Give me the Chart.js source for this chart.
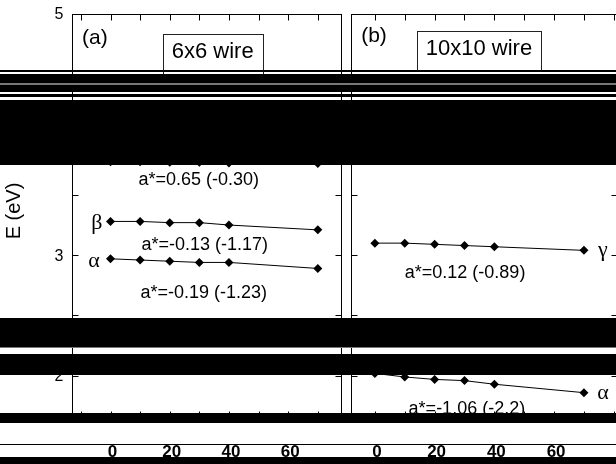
<!DOCTYPE html>
<html>
<head>
<meta charset="utf-8">
<script src="https://cdn.jsdelivr.net/npm/chart.js"></script>
<style>
  body { margin: 0; background: #fff; overflow: hidden; }
  #wrap { position: relative; width: 616px; height: 464px; overflow: hidden; background: #fff; }
  #wrap canvas { position: absolute; top: 0; }
  .band { position: absolute; left: 0; width: 616px; }
</style>
</head>
<body>
<div id="wrap">
  <canvas id="panel-a" width="346" height="464" style="left:0"></canvas>
  <canvas id="panel-b" width="280" height="464" style="left:346px"></canvas>
</div>
<script>
// wire length (x) vs. band energy E (eV)
let xValues = [0, 10, 20, 30, 40, 70];

let wire6Upper = [3.775, 3.775, 3.77, 3.77, 3.765, 3.76];
let wire6Beta  = [3.28, 3.28, 3.27, 3.27, 3.25, 3.21];
let wire6Alpha = [2.97, 2.96, 2.95, 2.94, 2.94, 2.89];

let wire10Gamma = [3.10, 3.10, 3.09, 3.08, 3.07, 3.04];
let wire10Alpha = [2.02, 1.99, 1.97, 1.96, 1.93, 1.86];

let yTickLabels = [2, 3, 4, 5];
let xTickLabels = [0, 20, 40, 60];

let wire6Notes  = ["a*=0.65 (-0.30)", "a*=-0.13 (-1.17)", "a*=-0.19 (-1.23)"];
let wire10Notes = ["a*=0.12 (-0.89)", "a*=-1.06 (-2.2)"];

// the scanned figure has black strips across it
let blackBands = [[70, 72], [74, 83], [85, 92], [94, 97], [100, 165],
                  [318, 347], [354, 375], [413, 423], [444, 445], [457, 464]];
let greyBands = [[83, 85], [347, 348]];

let sansFont = "'Liberation Sans', Arial, sans-serif";
let serifFont = "'Liberation Serif', 'Times New Roman', serif";

function toPoints(values) {
    return xValues.map(function (x, i) { return { x: x, y: values[i] }; });
}

function seriesSet(values) {
    return {
        data: toPoints(values),
        borderColor: '#000',
        borderWidth: 1,
        pointStyle: 'rectRot',
        pointRadius: 4.5,
        pointBackgroundColor: '#000',
        pointBorderColor: '#000',
        pointBorderWidth: 0,
        tension: 0
    };
}

let panelDecor = {
    id: 'panelDecor',
    afterDraw: function (chart, args, opts) {
        let ctx = chart.ctx;
        let area = chart.chartArea;
        let xs = chart.scales.x;
        let ys = chart.scales.y;
        ctx.save();
        ctx.strokeStyle = '#000';
        ctx.lineWidth = 1;
        let l = Math.round(area.left) + 0.5, r = Math.round(area.right) - 0.5;
        let t = Math.round(area.top) + 0.5, b = Math.round(area.bottom) - 0.5;
        ctx.strokeRect(l, t, r - l, b - t);

        // inward tick marks
        ctx.beginPath();
        for (let v = 1.5; v <= 5; v += 0.5) {
            if (v < ys.min || v > ys.max) continue;
            let py = Math.round(ys.getPixelForValue(v)) + 0.5;
            ctx.moveTo(l, py); ctx.lineTo(l + 6, py);
            ctx.moveTo(r, py); ctx.lineTo(r - 6, py);
        }
        for (let v = -10; v <= 80; v += 10) {
            if (v < xs.min || v > xs.max) continue;
            let px = Math.round(xs.getPixelForValue(v)) + 0.5;
            ctx.moveTo(px, t); ctx.lineTo(px, t + 6);
            ctx.moveTo(px, b); ctx.lineTo(px, b - 6);
        }
        ctx.stroke();

        ctx.fillStyle = '#000';
        if (opts.yLabels) {
            ctx.font = '16px ' + sansFont;
            ctx.textAlign = 'right';
            ctx.textBaseline = 'middle';
            yTickLabels.forEach(function (v) {
                ctx.fillText(String(v), l - 9, ys.getPixelForValue(v) + 1);
            });
            ctx.save();
            ctx.translate(14, 211);
            ctx.rotate(-Math.PI / 2);
            ctx.textAlign = 'center';
            ctx.font = '20px ' + sansFont;
            ctx.fillText('E (eV)', 0, 0);
            ctx.restore();
        }

        ctx.font = 'bold 17px ' + sansFont;
        ctx.textAlign = 'center';
        ctx.textBaseline = 'alphabetic';
        xTickLabels.forEach(function (v) {
            ctx.fillText(String(v), xs.getPixelForValue(v) + 2, 457);
        });

        ctx.textBaseline = 'middle';
        opts.notes.forEach(function (n) {
            ctx.font = n.font;
            let px = xs.getPixelForValue(n.x);
            let py = ys.getPixelForValue(n.y);
            ctx.fillText(n.text, px, py);
            if (n.box) {
                let w = ctx.measureText(n.text).width + 18;
                ctx.strokeStyle = '#222';
                ctx.strokeRect(Math.round(px - w / 2) + 0.5, Math.round(py - 18) + 0.5, Math.round(w), 40);
            }
        });
        ctx.restore();
    }
};

function makePanel(id, seriesList, xMin, xMax, pad, decor) {
    return new Chart(document.getElementById(id).getContext('2d'), {
        type: 'line',
        data: { datasets: seriesList.map(seriesSet) },
        options: {
            responsive: false,
            animation: false,
            layout: { padding: pad },
            plugins: {
                legend: { display: false },
                tooltip: { enabled: false },
                panelDecor: decor
            },
            scales: {
                x: { type: 'linear', display: false, min: xMin, max: xMax },
                y: { type: 'linear', display: false, min: 1.65, max: 5 }
            }
        },
        plugins: [panelDecor]
    });
}

let noteFont = '18px ' + sansFont;
let greekFont = '22px ' + serifFont;

makePanel('panel-a', [wire6Upper, wire6Beta, wire6Alpha], -13, 78,
    { left: 72, right: 4, top: 14, bottom: 46 },
    {
        yLabels: true,
        notes: [
            { text: '(a)', x: -5.3, y: 4.80, font: '21px ' + sansFont },
            { text: '6x6 wire', x: 34.5, y: 4.685, font: '22px ' + sansFont, box: true },
            { text: wire6Notes[0], x: 29.8, y: 3.624, font: noteFont },
            { text: wire6Notes[1], x: 31.8, y: 3.085, font: noteFont },
            { text: wire6Notes[2], x: 31.5, y: 2.687, font: noteFont },
            { text: 'β', x: -4.6, y: 3.267, font: greekFont },
            { text: 'α', x: -5.6, y: 2.952, font: greekFont }
        ]
    });

makePanel('panel-b', [wire10Gamma, wire10Alpha], -8, 81.4,
    { left: 5, right: 8, top: 14, bottom: 46 },
    {
        yLabels: false,
        notes: [
            { text: '(b)', x: -0.3, y: 4.818, font: '21px ' + sansFont },
            { text: '10x10 wire', x: 34.85, y: 4.71, font: '22px ' + sansFont, box: true },
            { text: wire10Notes[0], x: 30.2, y: 2.852, font: noteFont },
            { text: wire10Notes[1], x: 30.8, y: 1.725, font: noteFont },
            { text: 'γ', x: 76.3, y: 3.043, font: greekFont },
            { text: 'α', x: 76.4, y: 1.857, font: greekFont }
        ]
    });

let wrap = document.getElementById('wrap');
function addBands(list, colour) {
    list.forEach(function (band) {
        let div = document.createElement('div');
        div.className = 'band';
        div.style.top = band[0] + 'px';
        div.style.height = (band[1] - band[0]) + 'px';
        div.style.background = colour;
        wrap.appendChild(div);
    });
}
addBands(greyBands, '#777');
addBands(blackBands, '#000');
</script>
</body>
</html>
